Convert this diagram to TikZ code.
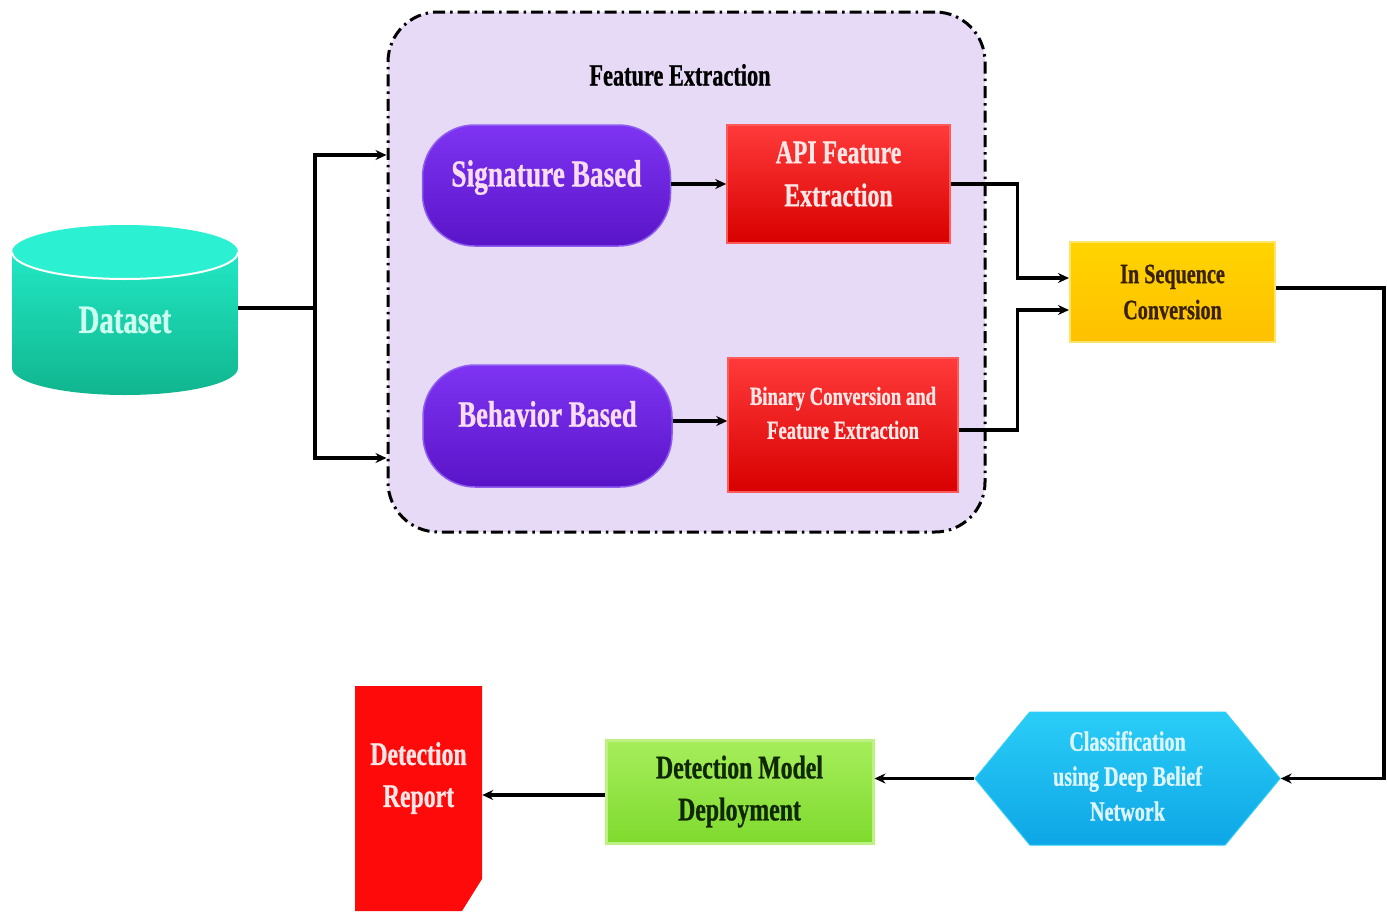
\documentclass[tikz,border=0pt]{standalone}
\usepackage{fontspec}
\setmainfont{Liberation Serif}
\newfontfamily\bfc[FakeStretch=0.72,FakeBold=0.8]{Liberation Serif Bold}
\usetikzlibrary{arrows.meta,shapes.symbols,calc}
\definecolor{lav}{HTML}{E7DAF7}
\definecolor{purT}{HTML}{7E34F2}
\definecolor{purB}{HTML}{5A14C8}
\definecolor{purE}{HTML}{8F5CF0}
\definecolor{redT}{HTML}{FF3A3A}
\definecolor{redB}{HTML}{D80000}
\definecolor{redE}{HTML}{FF5A5A}
\definecolor{yelT}{HTML}{FFD400}
\definecolor{yelB}{HTML}{FFC000}
\definecolor{yelE}{HTML}{FFE46A}
\definecolor{cyaT}{HTML}{2ACDF7}
\definecolor{cyaB}{HTML}{0EA6E6}
\definecolor{grnT}{HTML}{A6EE5C}
\definecolor{grnB}{HTML}{7FDA2E}
\definecolor{grnE}{HTML}{BDF283}
\definecolor{repR}{HTML}{FF0A0A}
\definecolor{dsT}{HTML}{22E8C4}
\definecolor{dsB}{HTML}{10B58E}
\definecolor{dsL}{HTML}{2CF0D2}
\definecolor{pinkT}{HTML}{F8DDF2}
\definecolor{lightT}{HTML}{FFE6E6}
\definecolor{dsTxt}{HTML}{CCFFF0}
\definecolor{cyTxt}{HTML}{DDF5FF}
\definecolor{brn}{HTML}{3A2200}
\definecolor{dgrn}{HTML}{102800}
\tikzset{
  base/.style={inner sep=0pt, align=center, font=\bfc},
  fecont/.style={base, draw=black, line width=3pt, fill=lav, rounded corners=50pt,
     dash pattern=on 12pt off 5pt on 2.5pt off 5pt, minimum width=597pt, minimum height=520pt},
  pill/.style={base, rounded corners=52pt, top color=purT, bottom color=purB, draw=purE, line width=1.5pt,
     minimum width=248pt, minimum height=121pt},
  redbox/.style={base, top color=redT, bottom color=redB, draw=redE, line width=1.5pt},
  yelbox/.style={base, top color=yelT, bottom color=yelB, draw=yelE, line width=2pt, text=brn,
     minimum width=205pt, minimum height=100pt},
  hexbox/.style={base, signal, signal to=west and east, signal pointer angle=101,
     top color=cyaT, bottom color=cyaB, draw=cyaT, line width=1pt,
     minimum width=305pt, minimum height=133pt},
  grnbox/.style={base, top color=grnT, bottom color=grnB, draw=grnE, line width=3pt, text=dgrn,
     minimum width=267pt, minimum height=103pt},
  lbl/.style={base},
  arr/.style={line width=3.2pt, -{Stealth[length=11pt,width=10pt]}},
  conn/.style={line width=3.2pt}
}
\begin{document}
\begin{tikzpicture}[x=1pt,y=-1pt]
\useasboundingbox (0,0) rectangle (1387,911);
% Dataset cylinder
\path[top color=dsT, bottom color=dsB] (12,252) -- (12,368) arc[x radius=113, y radius=27, start angle=180, end angle=0] -- (238,252) -- cycle;
\fill[dsL] (125,252) ellipse[x radius=113, y radius=27];
\draw[white, line width=2pt] (12,252) arc[x radius=113, y radius=27, start angle=180, end angle=0];
\node[base, text=dsTxt, font=\bfc\fontsize{40}{44}\selectfont, minimum width=226pt] (ds) at (125,320) {Dataset};
% container
\node[fecont] (fe) at (686.5,272) {};
\node[lbl, font=\bfc\fontsize{31}{34}\selectfont] (fet) at (680,75) {Feature Extraction};
% boxes
\node[pill] (sig) at (546.5,185.5) {};
\node[lbl, text=pinkT, font=\bfc\fontsize{38}{42}\selectfont] (sigt) at (546.5,177.5) {Signature Based};
\node[redbox, minimum width=223pt, minimum height=118pt] (api) at (838.5,184) {};
\node[lbl, text=lightT, font=\bfc\fontsize{33}{43}\selectfont] (apit) at (838.5,174) {API Feature\\Extraction};
\node[pill, minimum width=249pt, minimum height=122pt] (beh) at (547.5,426) {};
\node[lbl, text=pinkT, font=\bfc\fontsize{37}{41}\selectfont] (beht) at (547.5,414) {Behavior Based};
\node[redbox, minimum width=230pt, minimum height=134pt] (bin) at (843,425) {};
\node[lbl, text=lightT, font=\bfc\fontsize{26}{34}\selectfont] (bint) at (843,413) {Binary Conversion and\\Feature Extraction};
\node[yelbox, font=\bfc\fontsize{28}{36}\selectfont] (seq) at (1172.5,292) {In Sequence\\Conversion};
\node[hexbox] (cls) at (1127.5,778.5) {};
\node[lbl, text=cyTxt, font=\bfc\fontsize{28}{35}\selectfont] (clst) at (1127.5,776) {Classification\\using Deep Belief\\Network};
\node[grnbox, font=\bfc\fontsize{33}{42}\selectfont] (dep) at (739.5,791.5) {Detection Model\\Deployment};
% report
\fill[repR] (355,686) -- (482,686) -- (482,879) -- (462,911) -- (355,911) -- cycle;
\node[base, minimum width=127pt, minimum height=225pt] (rep) at (418.5,798.5) {};
\node[lbl, text=lightT, font=\bfc\fontsize{33}{42}\selectfont] (rept) at (418.5,778) {Detection\\Report};
% connectors
\coordinate (j) at (315,308);
\draw[conn] ([yshift=12pt]ds.east) -- (j);
\draw[arr] (j) |- ([yshift=117pt]fe.west);
\draw[arr] (j) |- ([yshift=-186pt]fe.west);
\draw[arr] ([yshift=1.5pt]sig.east) -- ([yshift=1.5pt]sig.east -| api.west);
\draw[arr] ([yshift=5pt]beh.east) -- ([yshift=5pt]beh.east -| bin.west);
\draw[arr] (api.east) -- ++(67,0) |- ([yshift=14pt]seq.west);
\draw[arr] ([yshift=-5pt]bin.east) -- ++(59,0) |- ([yshift=-18pt]seq.west);
\draw[arr] ([yshift=4pt]seq.east) -- ++(108,0) |- (cls.east);
\draw[arr] (cls.west) -- (cls.west -| dep.east);
\draw[arr] ([yshift=-3.5pt]dep.west) -- ([yshift=-3.5pt]dep.west -| rep.east);
\end{tikzpicture}
\end{document}
